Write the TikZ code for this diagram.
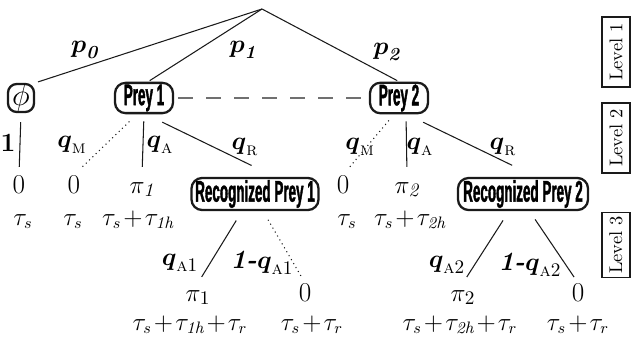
\documentclass[tikz,border=0pt]{standalone}
\usepackage{amsmath,amssymb}
\usepackage{fontspec}
\newfontfamily\preyfont{Liberation Sans}[FakeStretch=0.45, FakeBold=1.2]
\usetikzlibrary{positioning,calc}
\definecolor{treeblack}{HTML}{1A1A1A}
\definecolor{treegrey}{HTML}{707070}

\tikzset{
  preybox/.style={
    draw=treeblack,
    rounded corners=6pt,
    line width=1.3pt,
    inner sep=1pt,
    minimum height=0.6cm,
    font=\preyfont\bfseries\fontsize{17}{18}\selectfont
  },
  leaf/.style={inner sep=1pt, anchor=base, text height=0.32cm, text depth=0.06cm,
    font=\fontsize{15.5}{17}\selectfont},
  cost/.style={inner sep=1pt, anchor=base, font=\fontsize{13.5}{15}\selectfont,
    execute at begin node={\medmuskip=1.5mu}},
  prob/.style={inner sep=1pt, font=\fontsize{15}{17}\selectfont},
  branch/.style={line width=0.6pt, color=treeblack},
  levelbox/.style={
    draw=treeblack,
    line width=0.8pt,
    rotate=90,
    minimum width=1.4cm,
    minimum height=0.56cm,
    inner sep=1pt,
    font=\fontsize{10.5}{12}\selectfont
  }
}

\begin{document}
\begin{tikzpicture}[x=1cm,y=1cm]
\useasboundingbox (0,0) rectangle (12.62,6.78);

% level 1
\coordinate (root) at (5.24,6.60);
\node[preybox, minimum width=0.52cm, minimum height=0.56cm, inner sep=0pt, rounded corners=5pt]
  (phi) at (0.42,4.82) {$\phi$};
\node[preybox, minimum width=1.16cm] (prey1) at (2.88,4.82) {Prey 1};
\node[preybox, minimum width=1.16cm] (prey2) at (7.98,4.82) {Prey 2};

\draw[branch, shorten >=0.06cm] (root) -- (phi.north east);
\draw[branch, shorten >=0.04cm] (root) -- ([xshift=0.08cm]prey1.north);
\draw[branch, shorten >=0.04cm] (root) -- (prey2.north);
\draw[treegrey, line width=0.9pt, dash pattern=on 0.3cm off 0.26cm,
  shorten <=0.08cm, shorten >=0.1cm] (prey1) -- (prey2);

\node[prob] (lp0) at (1.70,5.78) {$\boldsymbol{p}_{\textbf{\textit{0}}}$};
\node[prob] (lp1) at (4.86,5.78) {$\boldsymbol{p}_{\textbf{\textit{1}}}$};
\node[prob] (lp2) at (7.74,5.74) {$\boldsymbol{p}_{\textbf{\textit{2}}}$};

% level 2
\node[leaf] (z0) at (0.38,2.92) {0};
\node[leaf] (zM1) at (1.48,2.92) {0};
\node[leaf] (pi1) at (2.84,2.92) {$\pi_{\textit{1}}$};
\node[preybox, minimum width=2.54cm, minimum height=0.64cm] (rec1) at (5.10,2.90) {Recognized Prey 1};
\node[leaf] (zM2) at (6.86,2.92) {0};
\node[leaf] (pi2) at (8.14,2.92) {$\pi_{\textit{2}}$};
\node[preybox, minimum width=2.60cm, minimum height=0.64cm] (rec2) at (10.46,2.90) {Recognized Prey 2};

\draw[branch, shorten <=0.18cm, shorten >=0.16cm] (phi.south) -- (z0.north);
\draw[branch, dotted, shorten <=0.21cm, shorten >=0.17cm] ([xshift=-0.14cm]prey1.south) -- (zM1.north);
\draw[branch, shorten <=0.14cm, shorten >=0.16cm] (prey1.south) -- (pi1.north);
\draw[branch, shorten <=0.36cm, shorten >=0.52cm] ([xshift=0.04cm]prey1.south) -- ([xshift=0.4cm]rec1.north);
\draw[branch, dotted, shorten <=0.16cm, shorten >=0.2cm] ([xshift=-0.1cm]prey2.south) -- (zM2.north);
\draw[branch, shorten <=0.14cm, shorten >=0.16cm] ([xshift=0.14cm]prey2.south) -- (pi2.north);
\draw[branch, shorten <=0.36cm, shorten >=0.53cm] ([xshift=0.16cm]prey2.south) -- ([xshift=0.26cm]rec2.north);

\node[prob] (l1) at (0.16,3.92) {\textbf{1}};
\node[prob] (lqM1) at (1.44,3.88) {$\boldsymbol{q}_{\textsc{m}}$};
\node[prob] (lqA1) at (3.20,3.88) {$\boldsymbol{q}_{\textsc{a}}$};
\node[prob] (lqR1) at (4.90,3.84) {$\boldsymbol{q}_{\textsc{r}}$};
\node[prob] (lqM2) at (7.20,3.84) {$\boldsymbol{q}_{\textsc{m}}$};
\node[prob] (lqA2) at (8.40,3.84) {$\boldsymbol{q}_{\textsc{a}}$};
\node[prob] (lqR2) at (10.06,3.84) {$\boldsymbol{q}_{\textsc{r}}$};

\node[cost] (t0) at (0.46,2.28) {$\tau_s$};
\node[cost] (tM1) at (1.46,2.28) {$\tau_s$};
\node[cost] (tA1) at (2.76,2.28) {$\tau_s+\tau_{\textit{1h}}$};
\node[cost] (tM2) at (6.94,2.28) {$\tau_s$};
\node[cost] (tA2) at (8.20,2.28) {$\tau_s+\tau_{\textit{2h}}$};

% level 3
\node[leaf] (pi1b) at (3.96,0.76) {$\pi_1$};
\node[leaf] (z1b) at (6.10,0.76) {0};
\node[leaf] (pi2b) at (9.26,0.76) {$\pi_2$};
\node[leaf] (z2b) at (11.56,0.76) {0};

\draw[branch, shorten <=0.22cm, shorten >=0.14cm] ([xshift=-0.26cm]rec1.south) -- (pi1b.north);
\draw[branch, dotted, shorten <=0.2cm, shorten >=0.14cm] ([xshift=0.16cm]rec1.south) -- (z1b.north);
\draw[branch, shorten <=0.22cm, shorten >=0.14cm] ([xshift=-0.28cm]rec2.south) -- (pi2b.north);
\draw[branch, shorten <=0.2cm, shorten >=0.14cm] ([xshift=0.13cm]rec2.south) -- (z2b.north);

\node[prob] (lqA1b) at (3.60,1.52) {$\boldsymbol{q}_{\textsc{a}1}$};
\node[prob] (lnA1b) at (5.24,1.52) {\textbf{\textit{1-}}$\boldsymbol{q}_{\textsc{a}1}$};
\node[prob] (lqA2b) at (8.94,1.48) {$\boldsymbol{q}_{\textsc{a}2}$};
\node[prob] (lnA2b) at (10.60,1.48) {\textbf{\textit{1-}}$\boldsymbol{q}_{\textsc{a}2}$};

\node[cost] (t31) at (3.80,0.18) {$\tau_s+\tau_{\textit{1h}}+\tau_r$};
\node[cost] (t32) at (6.24,0.18) {$\tau_s+\tau_r$};
\node[cost] (t33) at (9.20,0.18) {$\tau_s+\tau_{\textit{2h}}+\tau_r$};
\node[cost] (t34) at (11.56,0.18) {$\tau_s+\tau_r$};

% level boxes
\node[levelbox] (lev1) at (12.32,5.74) {Level 1};
\node[levelbox] (lev2) at (12.32,4.02) {Level 2};
\node[levelbox, minimum width=1.3cm] (lev3) at (12.32,1.88) {Level 3};
\end{tikzpicture}
\end{document}
